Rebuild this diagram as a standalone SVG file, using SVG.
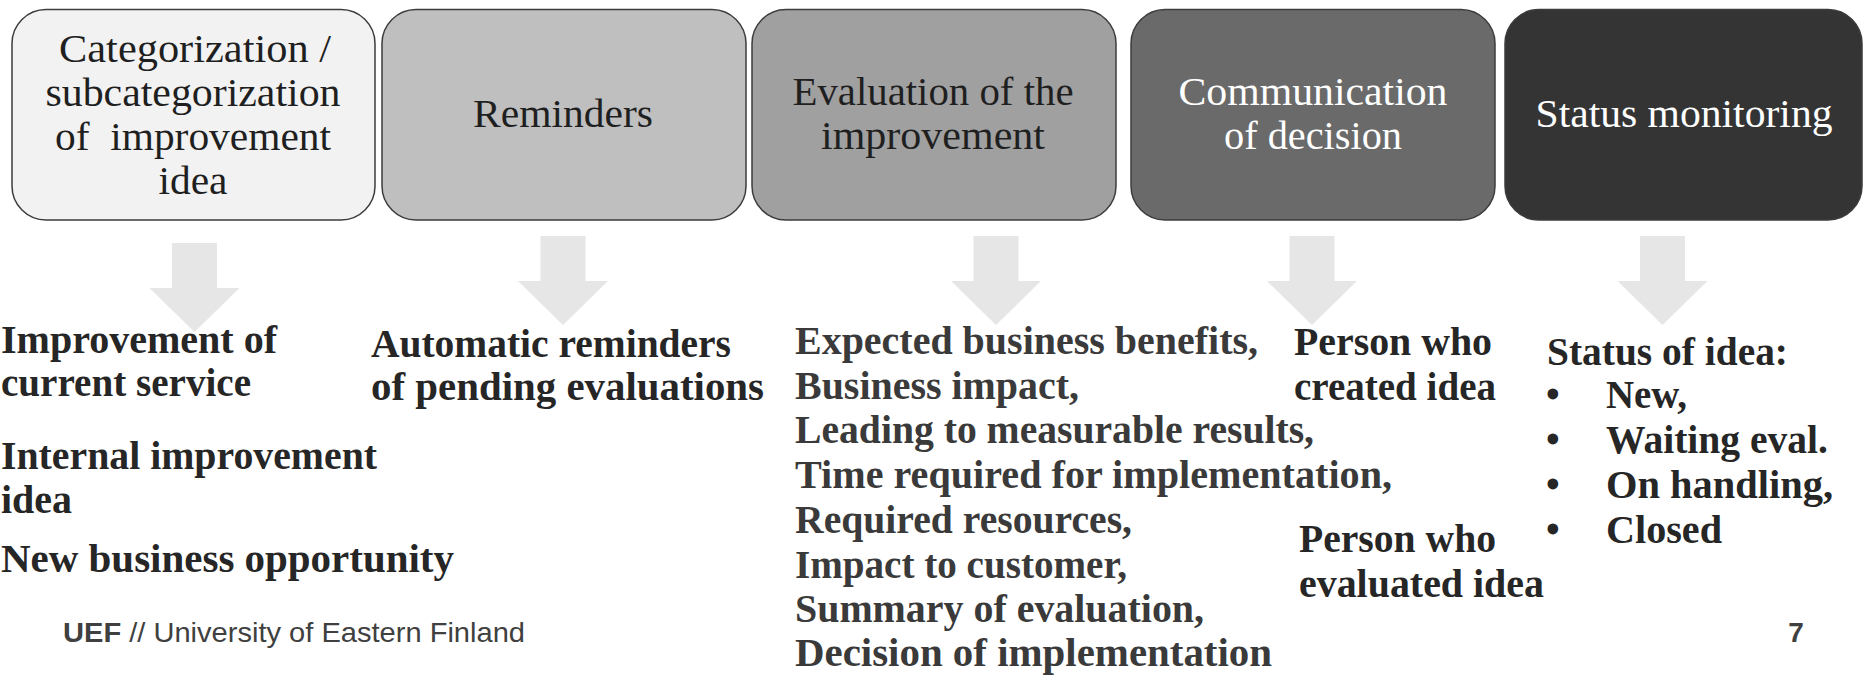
<svg xmlns="http://www.w3.org/2000/svg" width="1865" height="676" viewBox="0 0 1865 676">
  <style>
    .box { stroke: #3c3c3c; stroke-width: 1.5; }
    .head { font-family: "Liberation Serif", "Times New Roman", serif; font-size: 40px; text-anchor: middle; }
    .dark { fill: #1f1f1f; }
    .light { fill: #ffffff; }
    .item { font-family: "Liberation Serif", "Times New Roman", serif; font-size: 39px; font-weight: bold; fill: #262626; }
    .eval { fill: #3a3a3a; }
    .foot { font-family: "Liberation Sans", Arial, sans-serif; font-size: 28px; fill: #404040; }
  </style>
  <defs>
    <!-- block arrow pointing down, origin at top centre -->
    <path id="downArrow" d="M -22.5 0 H 22.5 V 45 H 45 L 0 89 L -45 45 H -22.5 Z" fill="#e7e6e6"/>
  </defs>

  <rect width="1865" height="676" fill="#ffffff"/>

  <!-- process steps -->
  <g id="step-categorization">
    <rect class="box" x="12" y="9.5" width="363" height="210.5" rx="34" ry="34" fill="#f2f2f2"/>
    <text class="head dark" x="195" y="62" textLength="272" lengthAdjust="spacingAndGlyphs">Categorization /</text>
    <text class="head dark" x="193" y="106" textLength="295" lengthAdjust="spacingAndGlyphs">subcategorization</text>
    <text class="head dark" x="193" y="150" textLength="276" lengthAdjust="spacingAndGlyphs" xml:space="preserve">of  improvement</text>
    <text class="head dark" x="193" y="194" textLength="69" lengthAdjust="spacingAndGlyphs">idea</text>
  </g>

  <g id="step-reminders">
    <rect class="box" x="382" y="9.5" width="364" height="210.5" rx="34" ry="34" fill="#bfbfbf"/>
    <text class="head dark" x="563" y="127" textLength="180" lengthAdjust="spacingAndGlyphs">Reminders</text>
  </g>

  <g id="step-evaluation">
    <rect class="box" x="752" y="9.5" width="364" height="210.5" rx="34" ry="34" fill="#a0a0a0"/>
    <text class="head dark" x="933" y="105" textLength="281" lengthAdjust="spacingAndGlyphs">Evaluation of the</text>
    <text class="head dark" x="933" y="149" textLength="224" lengthAdjust="spacingAndGlyphs">improvement</text>
  </g>

  <g id="step-communication">
    <rect class="box" x="1131" y="9.5" width="364" height="210.5" rx="34" ry="34" fill="#6a6a6a"/>
    <text class="head light" x="1313" y="105" textLength="269" lengthAdjust="spacingAndGlyphs">Communication</text>
    <text class="head light" x="1313" y="149" textLength="178" lengthAdjust="spacingAndGlyphs">of decision</text>
  </g>

  <g id="step-status">
    <rect class="box" x="1505" y="9.5" width="357" height="210.5" rx="34" ry="34" fill="#343434"/>
    <text class="head light" x="1684" y="127" textLength="297" lengthAdjust="spacingAndGlyphs">Status monitoring</text>
  </g>

  <!-- arrows from each step down to its details -->
  <g id="connectors">
    <use href="#downArrow" x="194.5" y="243"/>
    <use href="#downArrow" x="563" y="236"/>
    <use href="#downArrow" x="996" y="236"/>
    <use href="#downArrow" x="1312" y="236"/>
    <use href="#downArrow" x="1662.5" y="236"/>
  </g>

  <!-- details: categories -->
  <g id="details-categories">
    <text class="item" x="1" y="353" textLength="276" lengthAdjust="spacingAndGlyphs">Improvement of</text>
    <text class="item" x="1" y="396" textLength="250" lengthAdjust="spacingAndGlyphs">current service</text>
    <text class="item" x="1" y="469" textLength="376" lengthAdjust="spacingAndGlyphs">Internal improvement</text>
    <text class="item" x="1" y="513" textLength="71" lengthAdjust="spacingAndGlyphs">idea</text>
    <text class="item" x="1" y="572" textLength="453" lengthAdjust="spacingAndGlyphs">New business opportunity</text>
  </g>

  <!-- details: reminders -->
  <g id="details-reminders">
    <text class="item" x="371" y="357" textLength="360" lengthAdjust="spacingAndGlyphs">Automatic reminders</text>
    <text class="item" x="371" y="400" textLength="393" lengthAdjust="spacingAndGlyphs">of pending evaluations</text>
  </g>

  <!-- details: evaluation criteria -->
  <g id="details-evaluation">
    <text class="item eval" x="795" y="354" textLength="463" lengthAdjust="spacingAndGlyphs">Expected business benefits,</text>
    <text class="item eval" x="795" y="399" textLength="284" lengthAdjust="spacingAndGlyphs">Business impact,</text>
    <text class="item eval" x="795" y="443" textLength="519" lengthAdjust="spacingAndGlyphs">Leading to measurable results,</text>
    <text class="item eval" x="795" y="488" textLength="597" lengthAdjust="spacingAndGlyphs">Time required for implementation,</text>
    <text class="item eval" x="795" y="533" textLength="337" lengthAdjust="spacingAndGlyphs">Required resources,</text>
    <text class="item eval" x="795" y="578" textLength="332" lengthAdjust="spacingAndGlyphs">Impact to customer,</text>
    <text class="item eval" x="795" y="622" textLength="409" lengthAdjust="spacingAndGlyphs">Summary of evaluation,</text>
    <text class="item eval" x="795" y="666" textLength="477" lengthAdjust="spacingAndGlyphs">Decision of implementation</text>
  </g>

  <!-- details: communication -->
  <g id="details-communication">
    <text class="item" x="1294" y="355" textLength="198" lengthAdjust="spacingAndGlyphs">Person who</text>
    <text class="item" x="1294" y="400" textLength="202" lengthAdjust="spacingAndGlyphs">created idea</text>
    <text class="item" x="1299" y="552" textLength="197" lengthAdjust="spacingAndGlyphs">Person who</text>
    <text class="item" x="1299" y="597" textLength="245" lengthAdjust="spacingAndGlyphs">evaluated idea</text>
  </g>

  <!-- details: status values -->
  <g id="details-status">
    <text class="item" x="1547" y="365" textLength="241" lengthAdjust="spacingAndGlyphs">Status of idea:</text>
    <text class="item" x="1546" y="408">•</text>
    <text class="item" x="1606" y="408" textLength="81" lengthAdjust="spacingAndGlyphs">New,</text>
    <text class="item" x="1546" y="453">•</text>
    <text class="item" x="1606" y="453" textLength="222" lengthAdjust="spacingAndGlyphs">Waiting eval.</text>
    <text class="item" x="1546" y="498">•</text>
    <text class="item" x="1606" y="498" textLength="227" lengthAdjust="spacingAndGlyphs">On handling,</text>
    <text class="item" x="1546" y="543">•</text>
    <text class="item" x="1606" y="543" textLength="116" lengthAdjust="spacingAndGlyphs">Closed</text>
  </g>

  <!-- footer -->
  <g id="footer">
    <text class="foot" x="63" y="642" textLength="462" lengthAdjust="spacingAndGlyphs"><tspan font-weight="bold">UEF</tspan> // University of Eastern Finland</text>
    <text class="foot" x="1796" y="642" font-weight="bold" text-anchor="middle">7</text>
  </g>
</svg>
